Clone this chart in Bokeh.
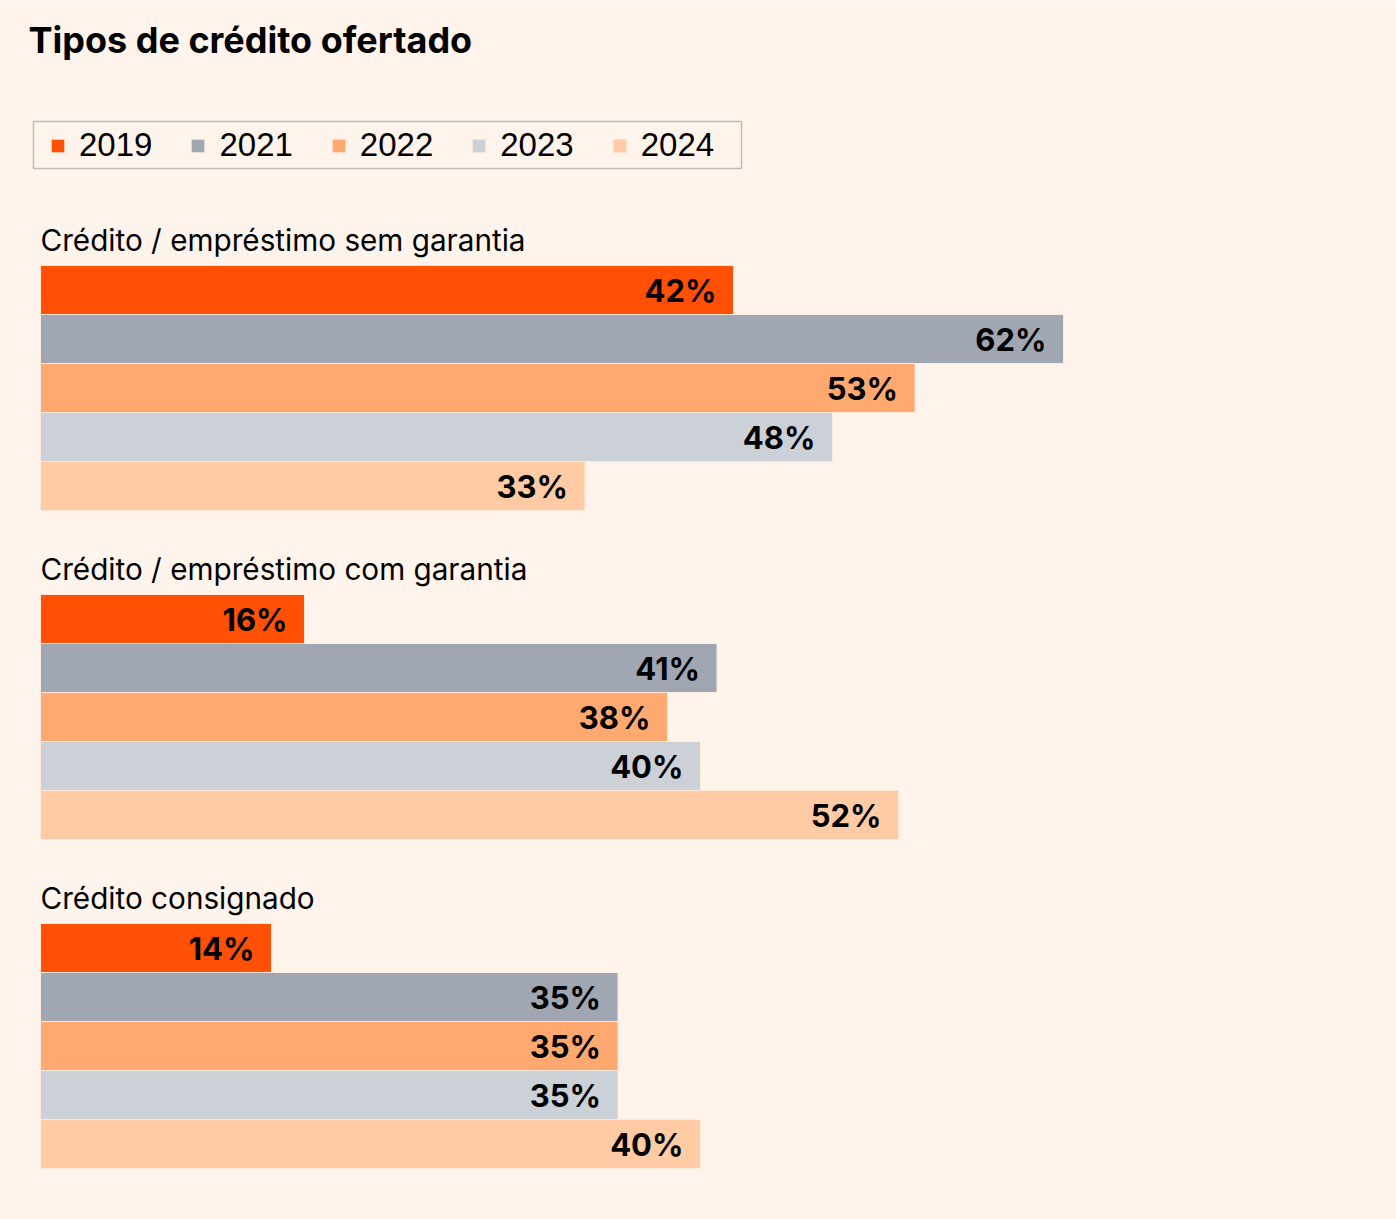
from bokeh.plotting import figure
from bokeh.models import ColumnDataSource, Range1d, Legend, LegendItem, Label, BoxAnnotation
from bokeh.core.properties import value
from bokeh.embed import file_html
from bokeh.resources import INLINE

# ---- data ----
categories = ["Crédito / empréstimo sem garantia",
              "Crédito / empréstimo com garantia",
              "Crédito consignado"]
years = ["2019", "2021", "2022", "2023", "2024"]
v2019 = [42, 16, 14]
v2021 = [62, 41, 35]
v2022 = [53, 38, 35]
v2023 = [48, 40, 35]
v2024 = [33, 52, 40]
series = [v2019, v2021, v2022, v2023, v2024]
colors = ["#FF5005", "#A0A7B2", "#FFA86F", "#CCD1D8", "#FFCBA4"]

BG = "#FFF4EC"
FONT = "Inter"
LEG_FONT = "Liberation Sans"
W, H = 1396, 1219

# layout (pixel-like units on y; x in percent)
k = 16.5            # px per percent
x0px = 40
group_top0 = 265
group_step = 329
bar_h = 49

def px_to_x(px):
    return (px - x0px) / k

p = figure(width=W, height=H, output_backend="svg", toolbar_location=None,
           x_range=Range1d(px_to_x(0), px_to_x(W)),
           y_range=Range1d(H, 0),
           min_border=0, min_border_left=0, min_border_right=0,
           min_border_top=0, min_border_bottom=0,
           x_axis_location=None, y_axis_location=None)
p.background_fill_color = BG
p.border_fill_color = BG
p.outline_line_color = None
p.xgrid.visible = False
p.ygrid.visible = False

items = []
for i, (yr, vals, col) in enumerate(zip(years, series, colors)):
    ys = [group_top0 + g * group_step + bar_h / 2 + i * bar_h for g in range(len(categories))]
    src = ColumnDataSource(dict(y=ys, right=vals,
                                lab=[f"{v}%" for v in vals]))
    r = p.hbar(y="y", left=0, right="right", height=bar_h, source=src,
               fill_color=col, line_color="#FFE9DA", line_width=1)
    p.text(x="right", y="y", text="lab", source=src, x_offset=-17, y_offset=0,
           text_align="right", text_baseline="middle",
           text_font=value(FONT), text_font_style="bold",
           text_font_size="31px", text_color="#000000")
    items.append(LegendItem(label=yr, renderers=[r]))

# category labels
cat_src = ColumnDataSource(dict(x=[0] * len(categories),
                                y=[group_top0 + g * group_step - 25.5 for g in range(len(categories))],
                                t=categories))
p.text(x="x", y="y", text="t", source=cat_src, text_align="left",
       text_baseline="middle", text_font=value(FONT),
       text_font_size="29.7px", text_color="#000000")

# title
p.add_layout(Label(x=px_to_x(28), y=39.5,
                   text="Tipos de crédito ofertado", text_font=FONT,
                   text_font_style="bold", text_font_size="36px",
                   text_color="#000000", text_baseline="middle"))

# legend frame
p.add_layout(BoxAnnotation(left=px_to_x(33), right=px_to_x(741), top=121, bottom=168,
                           fill_color=BG, fill_alpha=1,
                           line_color="#BDBDBD", line_alpha=1, line_width=1.5,
                           level="underlay"))

legend = Legend(items=items, orientation="horizontal", location=(49, H - 164),
                label_text_font=LEG_FONT, label_text_font_size="33px",
                label_text_color="#000000",
                glyph_width=17, glyph_height=17, label_standoff=13,
                spacing=37, padding=4, margin=0,
                border_line_color=None,
                background_fill_alpha=0)
p.add_layout(legend, "center")

open("out.html", "w").write(file_html(p, INLINE))
